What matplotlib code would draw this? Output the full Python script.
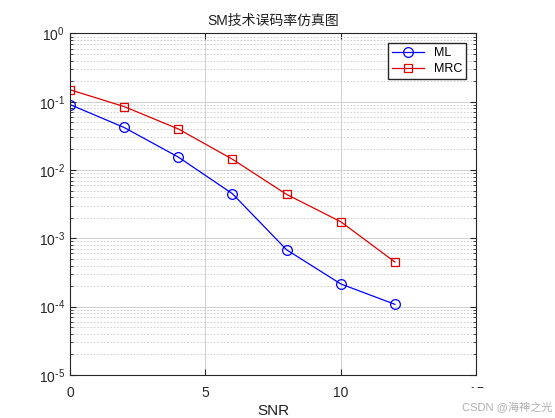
import matplotlib.pyplot as plt
import numpy as np
from matplotlib.ticker import LogLocator, FixedLocator, FuncFormatter
from matplotlib.patches import Rectangle

plt.rcParams['font.family'] = ['Liberation Sans', 'Noto Sans CJK SC', 'DejaVu Sans']
plt.rcParams['axes.unicode_minus'] = False

snr = [0, 2, 4, 6, 8, 10, 12]
ber_ml = [0.091, 0.042, 0.0155, 0.0045, 0.00068, 0.000215, 0.000108]
ber_mrc = [0.150, 0.085, 0.040, 0.0144, 0.0044, 0.00175, 0.00045]

fig = plt.figure(figsize=(5.55, 4.18), dpi=100)
ax = fig.add_axes([0.126, 0.103, 0.732, 0.817])

ax.semilogy(snr, ber_ml, 'o-', color='#0000ff', lw=0.9, ms=7, mfc='none', mew=0.9, label='ML')
ax.semilogy(snr, ber_mrc, 's-', color='#e00000', lw=0.9, ms=6, mfc='none', mew=0.9, label='MRC')

ax.set_xlim(0, 15)
ax.set_ylim(1e-5, 1)
ax.xaxis.set_major_locator(FixedLocator([0, 5, 10, 15]))
ax.yaxis.set_major_locator(LogLocator(base=10, numticks=10))
ax.yaxis.set_minor_locator(LogLocator(base=10, subs=np.arange(2, 10), numticks=10))


def exp_label(v, pos):
    e = int(round(np.log10(v)))
    s = str(e).replace('-', r'\text{-}')
    return r'$\mathdefault{10^{' + s + '}}$'


ax.yaxis.set_major_formatter(FuncFormatter(exp_label))

ax.grid(True, which='major', color='#d0d0d0', lw=0.7, ls='-')
ax.grid(True, which='minor', axis='y', color='#c8c8c8', lw=0.6, ls=(0, (2, 2)))
ax.tick_params(which='both', direction='in', top=True, right=True, labelsize=10, colors='#262626')
ax.tick_params(which='major', length=4)
ax.tick_params(which='minor', length=2)
ax.tick_params(axis='x', pad=8)
for s in ax.spines.values():
    s.set_color('#262626')
    s.set_linewidth(0.8)

ax.set_title('SM技术误码率仿真图', fontsize=10, color='#202020', pad=6)
ax.set_xlabel('SNR', fontsize=11, color='#202020', labelpad=3)
ax.legend(loc='upper right', fontsize=9, fancybox=False, edgecolor='#262626',
          framealpha=1, borderaxespad=0.8, handlelength=2.6, borderpad=0.3, labelspacing=0.3)

# watermark area covers part of the last tick label, as in the source image
fig.patches.append(Rectangle((358 / 555, 0), 197 / 555, 30 / 418, transform=fig.transFigure,
                             facecolor='white', edgecolor='none', zorder=5))
fig.text(0.995, 0.012, 'CSDN @海神之光', ha='right', va='bottom', fontsize=8, color='#b0b0b0', zorder=6)

fig.savefig('out.png', dpi=100)
